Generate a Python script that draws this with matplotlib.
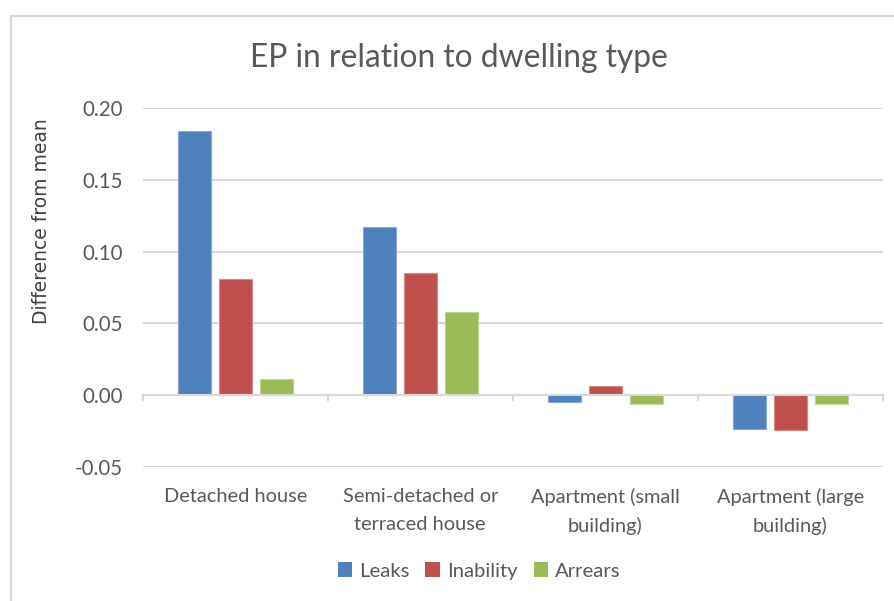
import matplotlib
matplotlib.use("Agg")
import matplotlib.pyplot as plt
import matplotlib.transforms as mtransforms
from matplotlib.patches import Patch, Rectangle
import numpy as np

# Data
categories = ["Detached house", "Semi-detached or\nterraced house",
              "Apartment (small\nbuilding)", "Apartment (large\nbuilding)"]
series_names = ["Leaks", "Inability", "Arrears"]
leaks = [0.184, 0.117, -0.005, -0.0235]
inability = [0.0806, 0.0853, 0.0064, -0.0243]
arrears = [0.0116, 0.0579, -0.006, -0.006]
yticks = [-0.05, 0.00, 0.05, 0.10, 0.15, 0.20]

colors = ["#4F81BD", "#C0504D", "#9BBB59"]
edges = ["#86A7D3", "#D68886", "#BDD497"]
text_gray = "#595959"
grid_gray = "#D9D9D9"

W, H = 895, 601
fig = plt.figure(figsize=(W / 100, H / 100), dpi=100)
fig.patch.set_facecolor("white")

# Outer chart frame
fig.patches.append(Rectangle((11.5 / W, -0.05), 1.2, 1 - 16 / H + 0.05,
                             transform=fig.transFigure, fill=False,
                             edgecolor=grid_gray, linewidth=1.6))

left, right, top, bottom = 142.7, 882.7, 108.0, 467.0
ax = fig.add_axes([left / W, 1 - bottom / H, (right - left) / W, (bottom - top) / H])

x = np.arange(len(categories))
bw = 33 / 185
step = 41 / 185
for i, (vals, name) in enumerate(zip([leaks, inability, arrears], series_names)):
    ax.bar(x + (i - 1) * step, vals, width=bw, color=colors[i],
           edgecolor=edges[i], linewidth=0.8, label=name, zorder=3)

ax.set_xlim(-0.5, len(categories) - 0.5)
ax.set_ylim(-0.05, 0.20)
ax.set_yticks(yticks)
ax.set_yticklabels([f"{v:.2f}" for v in yticks])
ax.yaxis.grid(True, color=grid_gray, linewidth=1.5, zorder=0)
ax.set_axisbelow(True)

for s in ["left", "right", "top"]:
    ax.spines[s].set_visible(False)
ax.spines["bottom"].set_position(("data", 0))
ax.spines["bottom"].set_color(grid_gray)
ax.spines["bottom"].set_linewidth(1.5)
ax.spines["bottom"].set_zorder(4)

ax.set_xticks(np.arange(-0.5, len(categories), 1.0))
ax.set_xticklabels([])
ax.tick_params(axis="x", direction="out", length=4.5, width=1.5, color=grid_gray)
ax.tick_params(axis="y", length=0, pad=14, labelsize=14.8, labelcolor=text_gray)
for lab in ax.get_yticklabels():
    lab.set_fontfamily("Lato")

# Category labels below the plot
trans = mtransforms.blended_transform_factory(ax.transData, fig.transFigure)
for i, c in enumerate(categories):
    ax.text(i, 1 - 488 / H, c, transform=trans, ha="center", va="top",
            fontsize=14.4, color=text_gray, family="Lato", linespacing=1.75)

# Title and axis title
fig.text(459 / W, 1 - 58 / H, "EP in relation to dwelling type", ha="center",
         va="center", fontsize=22.9, color=text_gray, family="Lato")
fig.text(42 / W, 1 - 221 / H, "Difference from mean", rotation=90,
         ha="center", va="center", fontsize=13.5, color="#404040",
         family="DejaVu Sans")

handles = [Patch(facecolor=c, edgecolor="none") for c in colors]
fig.legend(handles, series_names, loc="center", bbox_to_anchor=(479 / W, 1 - 571 / H),
           ncol=3, frameon=False, handlelength=0.7, handleheight=0.7,
           handletextpad=0.35, columnspacing=0.8,
           prop={"family": "Lato", "size": 14.6}, labelcolor=text_gray)

fig.savefig("out.png", dpi=100, facecolor="white")
